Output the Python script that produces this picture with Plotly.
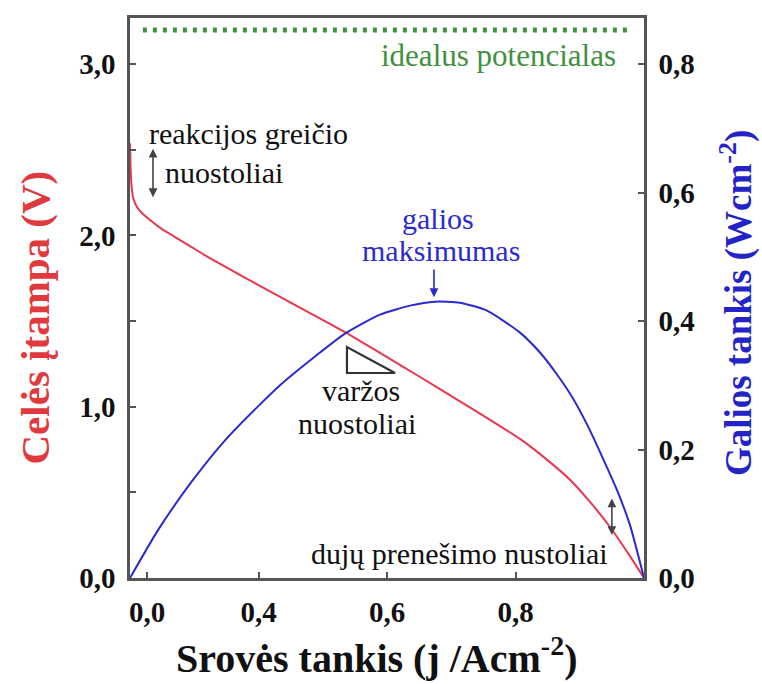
import plotly.graph_objects as go

# ---- data ----
# current density axis (as drawn): from 0.2 at the left frame to 1.0 at the right frame
j_voltage = [0.2000, 0.2008, 0.2023, 0.2047, 0.2093, 0.2171, 0.2311, 0.2498, 0.2700,
             0.2934, 0.3214, 0.3743, 0.4257, 0.4802, 0.5346, 0.6156, 0.6825, 0.7447,
             0.8070, 0.8459, 0.8848, 0.9160, 0.9471, 0.9782, 1.0]
cell_voltage = [2.539, 2.411, 2.294, 2.224, 2.177, 2.137, 2.090, 2.037, 1.991,
                1.938, 1.874, 1.763, 1.658, 1.547, 1.436, 1.255, 1.103, 0.960,
                0.812, 0.700, 0.574, 0.444, 0.298, 0.128, 0.0]

j_power = [0.2000, 0.2436, 0.2965, 0.3479, 0.3992, 0.4366, 0.4879, 0.5346, 0.5891,
           0.6358, 0.6747, 0.7136, 0.7556, 0.8070, 0.8381, 0.8646, 0.8895, 0.9113,
           0.9346, 0.9580, 0.9782, 1.0]
power_density = [0.0, 0.0746, 0.1507, 0.2144, 0.2672, 0.3029, 0.3449, 0.3806, 0.4101,
                 0.4241, 0.4303, 0.4287, 0.4163, 0.3821, 0.3511, 0.3169, 0.2796, 0.2392,
                 0.1895, 0.1367, 0.0823, 0.0]

ideal_potential = 3.2
ideal_j = [0.22, 0.981]

x_tickvals = [0.2265, 0.4, 0.6, 0.8]
x_ticktext = ["0,0", "0,4", "0,6", "0,8"]
yl_tickvals = [0, 1.0, 2.0, 3.0]
yl_ticktext = ["0,0", "1,0", "2,0", "3,0"]
yl_minor = [0.5, 1.5, 2.5]
yr_tickvals = [0, 0.2, 0.4, 0.6, 0.8]
yr_ticktext = ["0,0", "0,2", "0,4", "0,6", "0,8"]

RED = "#e8374f"
BLUE = "#2a2ad0"
GREEN = "#3f9140"
FRAME = "#555555"
SERIF = "Liberation Serif, Times New Roman, serif"

fig = go.Figure()

fig.add_trace(go.Scatter(
    x=ideal_j, y=[ideal_potential, ideal_potential], mode="lines",
    line=dict(color=GREEN, width=5, dash="4px,6px"), hoverinfo="skip", showlegend=False))

fig.add_trace(go.Scatter(
    x=j_voltage, y=cell_voltage, mode="lines",
    line=dict(color=RED, width=2, shape="spline", smoothing=0.5), showlegend=False))

fig.add_trace(go.Scatter(
    x=j_power, y=power_density, mode="lines", yaxis="y2",
    line=dict(color=BLUE, width=2, shape="spline", smoothing=0.6), showlegend=False))

tickfont = dict(family=SERIF, size=29, color="#111111", weight="bold")

fig.update_layout(
    width=762, height=684,
    margin=dict(l=130, r=118, t=18, b=106),
    paper_bgcolor="white", plot_bgcolor="white",
    xaxis=dict(range=[0.2, 1.0], tickvals=x_tickvals, ticktext=x_ticktext,
               ticks="inside", ticklen=6, tickcolor=FRAME, tickwidth=1.5,
               showline=True, linecolor=FRAME, linewidth=2.5, mirror=True,
               showgrid=False, zeroline=False, tickfont=tickfont, ticklabelstandoff=6),
    yaxis=dict(range=[0, 3.27], tickvals=yl_tickvals, ticktext=yl_ticktext,
               ticks="inside", ticklen=6, tickcolor=FRAME, tickwidth=1.5,
               minor=dict(tickvals=yl_minor, ticks="inside", ticklen=6,
                          tickcolor=FRAME, tickwidth=1.5, showgrid=False),
               showline=True, linecolor=FRAME, linewidth=2.5, mirror=True,
               showgrid=False, zeroline=False, tickfont=tickfont, ticklabelstandoff=6),
    yaxis2=dict(range=[0, 0.872], tickvals=yr_tickvals, ticktext=yr_ticktext,
                overlaying="y", side="right",
                ticks="inside", ticklen=6, tickcolor=FRAME, tickwidth=1.5,
                showline=True, linecolor=FRAME, linewidth=2.5,
                showgrid=False, zeroline=False, tickfont=tickfont, ticklabelstandoff=6),
)

TXT = 30
ann = []
def label(text, x, y, color="#111111", size=TXT, xanchor="center"):
    ann.append(dict(text=text, x=x, y=y, xref="x", yref="y", showarrow=False,
                    xanchor=xanchor, yanchor="middle",
                    font=dict(family=SERIF, size=size, color=color)))

label("idealus potencialas", 0.9595, 3.053, color=GREEN, xanchor="right", size=31)
label("reakcijos greičio", 0.2265, 2.598, xanchor="left")
label("nuostoliai", 0.2514, 2.37, xanchor="left")
label("galios", 0.6794, 2.10, color=BLUE)
label("maksimumas", 0.6840, 1.915, color=BLUE)
label("varžos", 0.5600, 1.095)
label("nuostoliai", 0.5530, 0.903)
label("dujų prenešimo nustoliai", 0.947, 0.146, xanchor="right")

def arrow(x, y0, y1, both=True, color="#444444"):
    ann.append(dict(x=x, y=y1, ax=x, ay=y0, xref="x", yref="y", axref="x", ayref="y",
                    text="", showarrow=True, arrowhead=2, arrowsize=1.1, arrowwidth=1.6,
                    arrowcolor=color, arrowside="end+start" if both else "end"))

arrow(0.2358, 2.516, 2.224)
arrow(0.6731, 1.81, 1.64, both=False, color=BLUE)
arrow(0.950, 0.473, 0.251)

# axis titles
ann.append(dict(text="Celės įtampa (V)", x=-0.185, y=0.465, xref="paper", yref="paper",
                showarrow=False, textangle=-90, xanchor="center", yanchor="middle",
                font=dict(family=SERIF, size=41, color="#e03a3e", weight="bold")))
ann.append(dict(text="Galios tankis (Wcm<sup>-2</sup>)", x=1.18, y=0.49, xref="paper", yref="paper",
                showarrow=False, textangle=-90, xanchor="center", yanchor="middle",
                font=dict(family=SERIF, size=37, color="#2323c8", weight="bold")))
ann.append(dict(text="Srovės tankis (j /Acm<sup>-2</sup>)", x=0.479, y=-0.139, xref="paper", yref="paper",
                showarrow=False, xanchor="center", yanchor="middle",
                font=dict(family=SERIF, size=40, color="#111111", weight="bold")))

fig.update_layout(annotations=ann)

# resistance-loss triangle
fig.add_shape(type="path", xref="x", yref="y",
              path="M 0.5377 1.349 L 0.5377 1.197 L 0.6125 1.197 Z",
              line=dict(color="#333333", width=2.2))

fig.write_html("out.html")
